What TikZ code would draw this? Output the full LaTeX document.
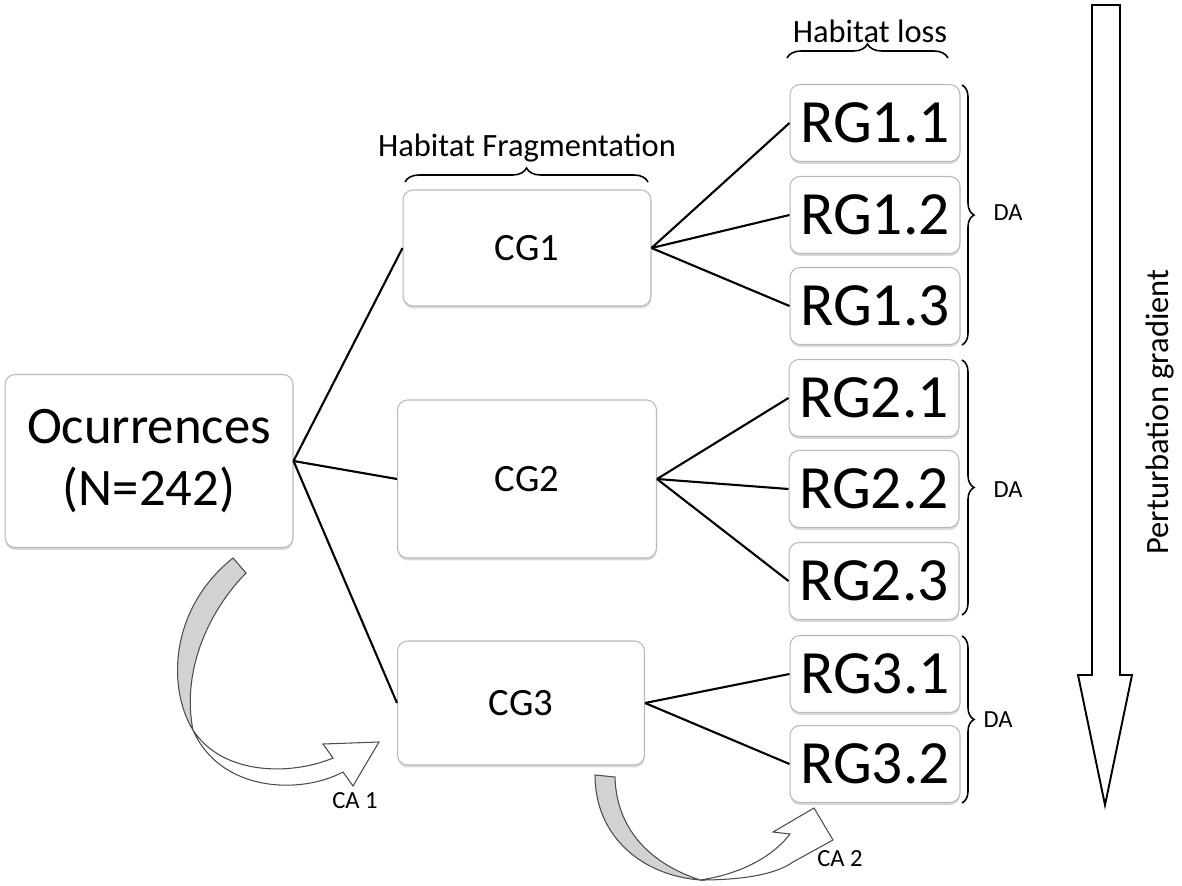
\documentclass[tikz,border=0pt]{standalone}
\usepackage{fontspec}
\setmainfont{Carlito}
\usetikzlibrary{decorations.pathreplacing,shadows}
\begin{document}
\begin{tikzpicture}[x=0.02cm,y=-0.02cm,
	box/.style={draw=gray!55,rounded corners=0.2cm,fill=white,line width=0.6pt,
		drop shadow={shadow xshift=0.005cm,shadow yshift=-0.05cm,opacity=0.3}},
	cgbox/.style={box,font=\fontsize{22}{26}\selectfont},
	rgbox/.style={box,minimum width=3.4cm,minimum height=1.54cm,font=\fontsize{35}{40}\selectfont},
	link/.style={line width=1.2pt},
	brc/.style={decorate,decoration={brace,amplitude=0.28cm},line width=0.9pt},
	lab/.style={font=\fontsize{18.5}{22}\selectfont},
	small/.style={font=\fontsize{14}{16}\selectfont},
	twist/.style={draw=gray!60!black,line width=0.6pt}]
		\useasboundingbox (0,0) rectangle (1182,885);
		% boxes
		\node[box,minimum width=5.76cm,minimum height=3.46cm,align=center,
			font=\fontsize{30}{35}\selectfont] (occ) at (149,461) {Ocurrences\\(N=242)};
		\node[cgbox,minimum width=4.96cm,minimum height=2.32cm] (cg1) at (527,248) {CG1};
		\node[cgbox,minimum width=5.18cm,minimum height=3.16cm] (cg2) at (527,479) {CG2};
		\node[cgbox,minimum width=4.94cm,minimum height=2.48cm] (cg3) at (521,703) {CG3};
		\node[rgbox] (rg11) at (875,123) {RG1.1};
		\node[rgbox] (rg12) at (875,215) {RG1.2};
		\node[rgbox] (rg13) at (875,306) {RG1.3};
		\node[rgbox] (rg21) at (874,398) {RG2.1};
		\node[rgbox] (rg22) at (874,489) {RG2.2};
		\node[rgbox] (rg23) at (874,581) {RG2.3};
		\node[rgbox] (rg31) at (875,674) {RG3.1};
		\node[rgbox] (rg32) at (875,764) {RG3.2};
		% links
		\foreach \c in {cg1,cg2,cg3} \draw[link] (occ.east)--(\c.west);
		\foreach \r in {rg11,rg12,rg13} \draw[link] (cg1.east)--(\r.west);
		\foreach \r in {rg21,rg22,rg23} \draw[link] (cg2.east)--(\r.west);
		\foreach \r in {rg31,rg32} \draw[link] (cg3.east)--(\r.west);
		% braces
		\draw[brc] (405,182)--(648,182);
		\node[lab] (frag) at (527,148) {Habitat Fragmentation};
		\draw[brc] (787,58)--(948,58);
		\node[lab] (loss) at (870,31) {Habitat loss};
		\draw[brc,decoration={amplitude=0.24cm}] (962,85)--(962,345);
		\node[small] (da1) at (1008,213) {DA};
		\draw[brc,decoration={amplitude=0.24cm}] (962,360)--(962,615);
		\node[small] (da2) at (1008,490) {DA};
		\draw[brc,decoration={amplitude=0.24cm}] (962,636)--(962,803);
		\node[small] (da3) at (998,720) {DA};
		% perturbation gradient
		\draw[line width=1.1pt] (1092,5)--(1120,5)--(1120,675)--(1132,675)--(1105,805)--(1078,675)--(1092,675)--cycle;
		\node[lab,rotate=90] (grad) at (1160,412) {Perturbation gradient};
		% curved arrows
		\filldraw[twist,fill=gray!35] (233,558)--(246,573) .. controls (205,615) and (182,675) .. (193,730)
			.. controls (168,690) and (168,610) .. cycle;
		\filldraw[twist,fill=white] (193,730) .. controls (220,792) and (300,795) .. (343,772)--(353,786)--(379,742)--(323,744)--(333,758)
			.. controls (290,776) and (222,775) .. cycle;
		\node[small] (ca1) at (355,801) {CA 1};
		\filldraw[twist,fill=gray!35] (595,775)--(615,777) .. controls (616,820) and (640,860) .. (700,880)
			.. controls (640,875) and (595,835) .. cycle;
		\filldraw[twist,fill=white] (700,880) .. controls (740,880) and (775,875) .. (793,862)--(833,840)--(814,808)--(773,832)--(790,834)
			.. controls (770,860) and (735,875) .. cycle;
		\node[small] (ca2) at (840,859) {CA 2};
	\end{tikzpicture}
\end{document}
